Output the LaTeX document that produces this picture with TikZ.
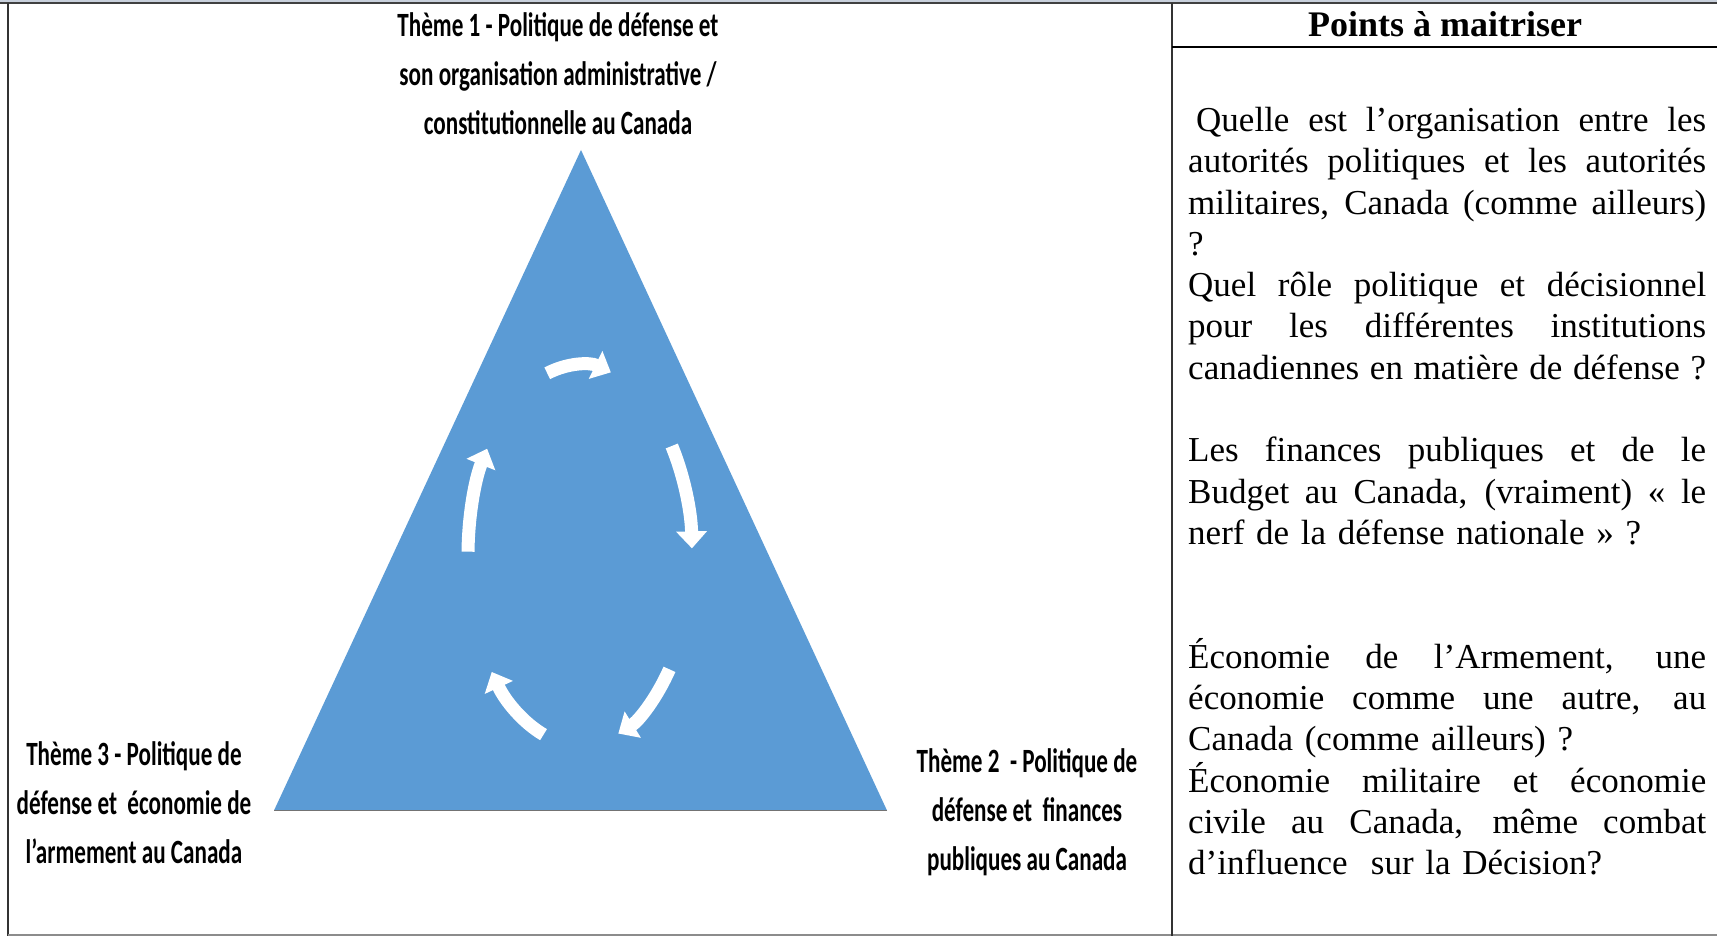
\documentclass[tikz,border=0pt]{standalone}
\usepackage{fontspec}
\setmainfont{Liberation Serif}
\newfontfamily\themefont[FakeStretch=0.68]{Carlito}
\usepackage{tikz}
\usetikzlibrary{arrows.meta}

\definecolor{triblue}{RGB}{91,155,213}
\definecolor{topband}{RGB}{200,208,220}
\newcommand{\fullline}[1]{\makebox[518pt][s]{\spaceskip=0pt\xspaceskip=0pt #1}}

\begin{document}
\begin{tikzpicture}[x=1pt, y=1pt,
    theme/.style={align=center, inner sep=0, font=\themefont\bfseries\fontsize{34pt}{49pt}\selectfont},
    cyclearrow/.style={white, line width=13pt, -{Triangle[width=30pt,length=17pt]}}]
    \useasboundingbox (0,0) rectangle (1717,937);
    % frame %
    \fill[topband] (0,934) rectangle (1717,937);
    \draw[line width=2pt, black!75] (0,934) -- (1717,934);
    \draw[line width=2pt, black!80] (8,934) -- (8,1);
    \draw[line width=2pt, black!45] (8,1.5) -- (1717,1.5);
    \draw[line width=2pt, black!80] (1172,934) -- (1172,1);
    \draw[line width=2pt, black] (1172,890) -- (1717,890);
    % triangle %
    \coordinate (apex) at (581,787);
    \coordinate (right) at (887,126.5);
    \coordinate (left) at (274,126.5);
    \fill[triblue] (apex) -- (right) -- (left) -- cycle;
    \draw[line width=1.5pt, black!55] (left) -- (right);
    % cycle arrows %
    \foreach \s in {107,35,-37,-109,179}
      \draw[cyclearrow] (580,382) ++(\s:112 and 190)
        arc[start angle=\s, end angle=\s-33, x radius=112, y radius=190];
    % nodes %
    \node[theme] (t1) at (558,863) {Thème 1 - Politique de défense et\\son organisation administrative /\\constitutionnelle au Canada};
    \node[theme] (t3) at (134,134) {Thème 3 - Politique de\\défense et\ \ économie de\\l’armement au Canada};
    \node[theme] (t2) at (1027,125) {Thème 2\ \ - Politique de\\défense et\ \ finances\\publiques au Canada};
    \node[font=\bfseries\fontsize{36pt}{41pt}\selectfont] (header) at (1445,913) {Points à maitriser};
    \node[anchor=north west, inner sep=0, text width=518pt, align=left,
          font=\fontsize{35pt}{41.3pt}\selectfont] (points) at (1188,830) {%
      \fullline{\hspace*{8pt}Quelle est l’organisation entre les}\\
      \fullline{autorités politiques et les autorités}\\
      \fullline{militaires, Canada (comme ailleurs)}\\
      ?\\
      \fullline{Quel rôle politique et décisionnel}\\
      \fullline{pour les différentes institutions}\\
      \fullline{canadiennes en matière de défense ?}\\
      \mbox{}\\
      \fullline{Les finances publiques et de le}\\
      \fullline{Budget au Canada, (vraiment) « le}\\
      nerf de la défense nationale » ?\\
      \mbox{}\\
      \mbox{}\\
      \fullline{Économie de l’Armement, une}\\
      \fullline{économie comme une autre, au}\\
      Canada (comme ailleurs) ?\\
      \fullline{Économie militaire et économie}\\
      \fullline{civile au Canada, même combat}\\
      d’influence\ \ sur la Décision?};
\end{tikzpicture}
\end{document}
